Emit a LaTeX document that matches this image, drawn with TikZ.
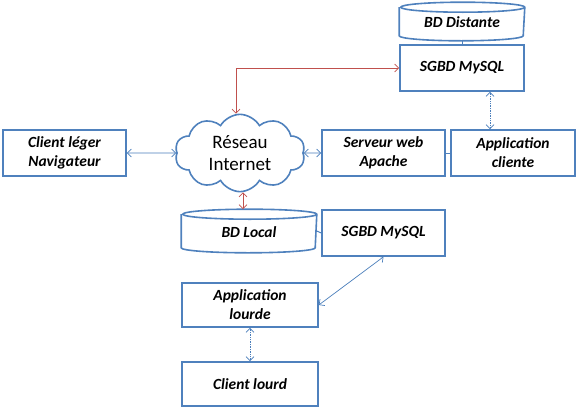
\documentclass[tikz,border=0pt]{standalone}
\usepackage{fontspec}
\setmainfont{Carlito}
\usetikzlibrary{arrows.meta, shapes.symbols}
\definecolor{cborder}{HTML}{4F81BD}
\definecolor{cline}{HTML}{4A7EBB}
\definecolor{cred}{HTML}{C0504D}
\tikzset{
  every picture/.style={x=1pt, y=-1pt},
  box/.style={draw=cborder, line width=1.6pt, align=center, inner sep=2pt,
    minimum width=#1, minimum height=46pt,
    font=\fontsize{15.5}{19}\selectfont\bfseries\itshape},
  box/.default=123pt,
  dbase/.style={box=#1, draw=none, text height=13pt},
  dbline/.style={draw=cborder, line width=1.6pt},
  arrow/.style={{Straight Barb[length=4pt, width=8pt]}-{Straight Barb[length=4pt, width=8pt]}, draw=cline, line width=0.7pt},
  redarrow/.style={arrow, draw=cred},
  dotarrow/.style={arrow, densely dotted},
  link/.style={draw=cborder, line width=1pt},
}
% cylinder outline round a named node: #1 node, #2 half width
\newcommand{\drawdb}[2]{%
  \draw[dbline] ([yshift=-5pt]#1.north west) -- ([yshift=5pt]#1.south west)
    arc[start angle=180, end angle=360, x radius=#2, y radius=5pt]
    -- ([yshift=-5pt]#1.north east)
    arc[start angle=0, end angle=360, x radius=#2, y radius=5pt];}
\begin{document}
\begin{tikzpicture}
  \useasboundingbox (0,0) rectangle (576,407);
  % top right: remote side
  \node[dbase=124pt, minimum height=37pt] (bdd) at (462,21.5) {BD Distante};
  \drawdb{bdd}{62pt}
  \node[box=124pt] (sgbdd) at (462,68) {SGBD MySQL};
  % middle row
  \node[box] (cl) at (64.5,153) {Client léger\\Navigateur};
  \node[cloud, draw=cborder, line width=1.6pt, cloud puffs=10, cloud puff arc=120, aspect=2,
    minimum width=130pt, minimum height=70pt, align=center,
    font=\fontsize{19}{22}\selectfont] (net) at (240,153) {Réseau\\Internet};
  \node[box] (web) at (383.5,153) {Serveur web\\Apache};
  \node[box=124pt] (appc) at (513,153) {Application\\cliente};
  % lower part: local side
  \node[dbase=134pt, minimum height=42pt] (bdl) at (249,231) {BD Local};
  \drawdb{bdl}{67pt}
  \node[box] (sgbdl) at (383.5,233) {SGBD MySQL};
  \node[box=136pt, minimum height=44pt] (appl) at (250,305) {Application\\lourde};
  \node[box=136pt, minimum height=44pt] (clo) at (250,384) {Client lourd};
  % connectors
  \draw[link] (bdd.south) -- (sgbdd.north);
  \draw[link] (web.east) -- (appc.west);
  \draw[link] (bdl.east) -- (sgbdl.west);
  \draw[redarrow] ([xshift=-4pt]net.north) |- (sgbdd.west);
  \draw[redarrow] ([xshift=3pt]net.south) -- ([xshift=-6pt]bdl.north);
  \draw[arrow] (cl.east) -- (net.west);
  \draw[arrow] (net.east) -- (web.west);
  \draw[dotarrow] ([xshift=28pt]sgbdd.south) -- ([xshift=-23pt]appc.north);
  \draw[arrow] (sgbdl.south) -- (appl.east);
  \draw[dotarrow] (appl.south) -- (clo.north);
\end{tikzpicture}
\end{document}
